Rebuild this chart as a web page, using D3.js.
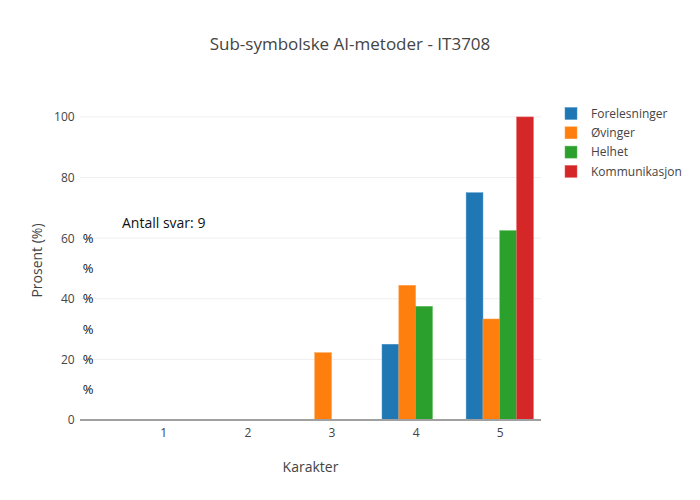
<!DOCTYPE html>
<html><head><meta charset="utf-8">
<script src="https://cdn.jsdelivr.net/npm/d3@7"></script>
<style>body{margin:0;background:#fff}svg{font-family:"Open Sans",sans-serif}</style>
</head><body><svg id="c" width="700" height="500"></svg>
<script>
const categories = [1, 2, 3, 4, 5];
const seriesNames = ["Forelesninger", "Øvinger", "Helhet", "Kommunikasjon"];
const colors = ["#1f77b4", "#ff7f0e", "#2ca02c", "#d62728"];
const lineColors = ["#4a94c8", "#ffa04a", "#5cbb5c", "#e46060"];
const forelesninger = [0, 0, 0, 25, 75];
const ovinger = [0, 0, 22.22, 44.44, 33.33];
const helhet = [0, 0, 0, 37.5, 62.5];
const kommunikasjon = [0, 0, 0, 0, 100];
const seriesValues = [forelesninger, ovinger, helhet, kommunikasjon];
const yTicks = [0, 20, 40, 60, 80, 100];
const percentLabelValues = [10, 20, 30, 40, 50, 60];
const title = "Sub-symbolske AI-metoder - IT3708";
const xTitle = "Karakter";
const yTitle = "Prosent (%)";
const annotationText = "Antall svar: 9";
const annotationY = 65;

const svg = d3.select("#c");
const L = 80, R = 541, T = 101, B = 420;
const x = d3.scaleLinear().domain([0.01, 5.49]).range([L, R]);
const y = d3.scaleLinear().domain([0, 105.26]).range([B, T]);
const slot = 0.2;

// grid
svg.append("g").selectAll("line").data(yTicks.filter(d => d > 0)).join("line")
  .attr("x1", L).attr("x2", R).attr("y1", d => y(d)).attr("y2", d => y(d))
  .attr("stroke", "#eee").attr("stroke-width", 1);

// bars
seriesValues.forEach((vals, si) => {
  svg.append("g").selectAll("rect").data(categories.map((c, i) => ({c, v: vals[i]})).filter(d => d.v > 0)).join("rect")
    .attr("x", d => x(d.c - 0.4 + si * slot))
    .attr("width", d => x(d.c - 0.4 + (si + 1) * slot) - x(d.c - 0.4 + si * slot))
    .attr("y", d => y(d.v)).attr("height", d => y(0) - y(d.v))
    .attr("fill", colors[si]).attr("stroke", lineColors[si]).attr("stroke-width", 0.5);
});

// zero line
svg.append("line").attr("x1", L).attr("x2", R).attr("y1", y(0)).attr("y2", y(0))
  .attr("stroke", "#a0a0a0").attr("stroke-width", 2);

// y ticks
const yAxis = d3.axisLeft(y).tickValues(yTicks).tickSize(0).tickPadding(3);
const gy = svg.append("g").attr("transform", `translate(${L},0)`).call(yAxis);
gy.select(".domain").remove();
gy.selectAll("text").attr("font-size", 12).attr("fill", "#444").attr("font-family", "Open Sans").attr("dx", "-0.2em");

// x ticks
const xAxis = d3.axisBottom(x).tickValues(categories).tickSize(0).tickPadding(8).tickFormat(d3.format("d"));
const gx = svg.append("g").attr("transform", `translate(0,${B})`).call(xAxis);
gx.select(".domain").remove();
gx.selectAll("text").attr("font-size", 12).attr("fill", "#444").attr("font-family", "Open Sans");

// % annotations
svg.append("g").selectAll("text").data(percentLabelValues).join("text")
  .attr("x", 88).attr("y", d => y(d)).attr("dy", "0.35em").attr("text-anchor", "middle")
  .attr("font-size", 13).attr("fill", "#111").text("%");

// Antall svar
svg.append("text").attr("x", 122).attr("y", y(annotationY)).attr("dy", "0.35em")
  .attr("font-size", 14).attr("fill", "#111").text(annotationText);

// title
svg.append("text").attr("x", 350).attr("y", 50).attr("text-anchor", "middle")
  .attr("font-size", 17).attr("fill", "#444").text(title);
// axis titles
svg.append("text").attr("x", (L + R) / 2).attr("y", 472).attr("text-anchor", "middle")
  .attr("font-size", 14).attr("fill", "#444").text(xTitle);
svg.append("text").attr("transform", `translate(42,${(T + B) / 2}) rotate(-90)`).attr("text-anchor", "middle")
  .attr("font-size", 14).attr("fill", "#444").text(yTitle);

// legend
const lg = svg.append("g").selectAll("g").data(seriesNames).join("g")
  .attr("transform", (d, i) => `translate(565,${113.5 + i * 19.3})`);
lg.append("rect").attr("x", 0).attr("y", -6).attr("width", 12).attr("height", 12)
  .attr("fill", (d, i) => colors[i]).attr("stroke", (d, i) => lineColors[i]).attr("stroke-width", 0.5);
lg.append("text").attr("x", 26).attr("y", 0).attr("dy", "0.35em").attr("font-size", 12).attr("fill", "#444").text(d => d);
</script></body></html>
